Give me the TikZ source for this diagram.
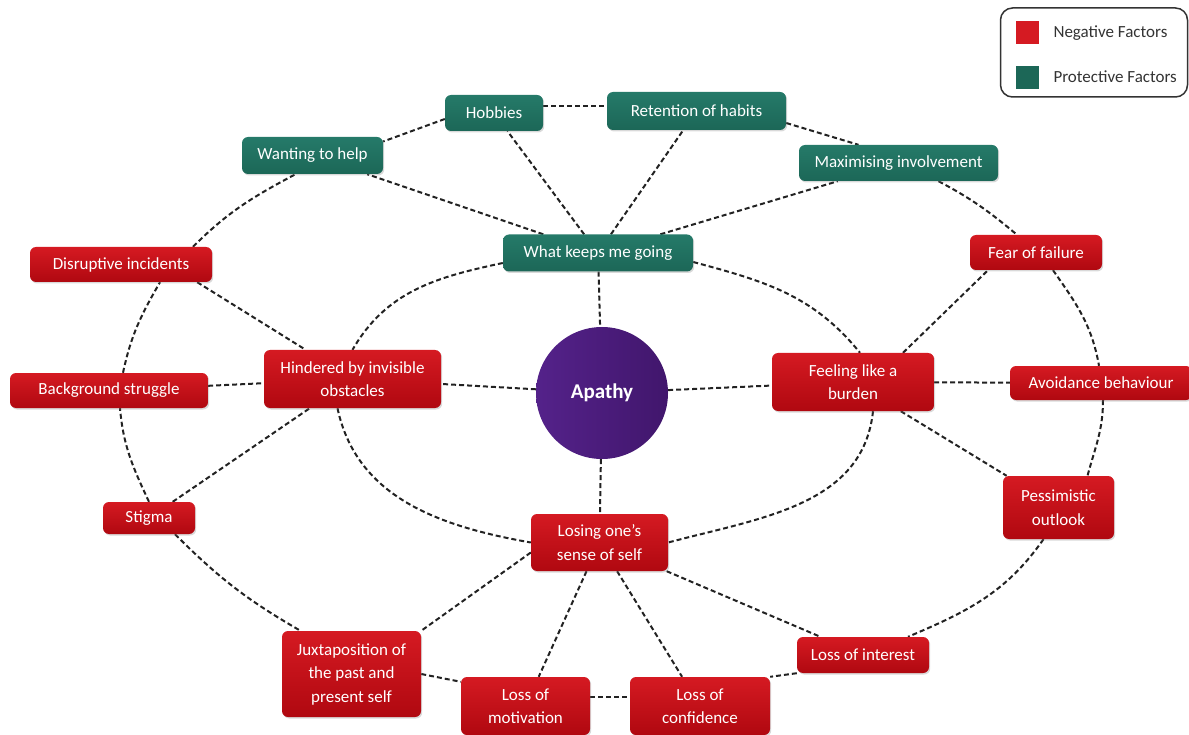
\documentclass[tikz,border=0pt]{standalone}
\usepackage{fontspec}
\setmainfont{Carlito}
\usetikzlibrary{shadows}
\definecolor{negtop}{HTML}{D51A22}
\definecolor{negbot}{HTML}{B00810}
\definecolor{protc}{HTML}{1C6757}
\definecolor{prottop}{HTML}{257A69}
\definecolor{purpl}{HTML}{54228A}
\definecolor{purpd}{HTML}{41166C}
\definecolor{linec}{HTML}{222222}
\definecolor{legtext}{HTML}{333333}
\pgfdeclarelayer{bglayer}
\pgfsetlayers{bglayer,main}
\begin{document}
\begin{tikzpicture}[x=1pt,y=-1pt,
  nodebox/.style={rectangle, rounded corners=6pt, text=white, align=center,
    font=\fontsize{17}{23.5}\selectfont, inner sep=2pt,
    drop shadow={opacity=0.3, shadow xshift=1.2pt, shadow yshift=-1.5pt}},
  neg/.style={nodebox, top color=negtop, bottom color=negbot},
  prot/.style={nodebox, top color=prottop, bottom color=protc},
  link/.style={draw=linec, line width=2pt, dash pattern=on 5pt off 3pt},
  legtxt/.style={anchor=west, text=legtext, font=\fontsize{17}{19}\selectfont},
]
\useasboundingbox (0,0) rectangle (1189,735);

% legend
\node[draw=legtext, line width=1.5pt, rounded corners=12pt, minimum width=187pt, minimum height=89pt] (legend) at (1094,52.5) {};
\node[fill=negtop, minimum size=23pt, inner sep=0pt] (lneg) at (1027.5,33) {};
\node[fill=protc, minimum size=23pt, inner sep=0pt] (lprot) at (1027.5,78) {};
\node[legtxt] (tneg) at (1050,33) {Negative Factors};
\node[legtxt] (tprot) at (1050,77) {Protective Factors};

% protective factors
\node[prot, minimum width=98pt, minimum height=36pt] (hob) at (494,113) {Hobbies};
\node[prot, minimum width=179pt, minimum height=38pt] (ret) at (696.5,111) {Retention of habits};
\node[prot, minimum width=141pt, minimum height=37pt] (want) at (312.5,155.5) {Wanting to help};
\node[prot, minimum width=199pt, minimum height=36pt] (max) at (898.5,163) {Maximising involvement};
\node[prot, minimum width=190pt, minimum height=37pt] (wkmg) at (598,253) {What keeps me going};

% negative factors
\node[neg, minimum width=182pt, minimum height=35pt] (dis) at (121,264.5) {Disruptive incidents};
\node[neg, minimum width=132pt, minimum height=35pt] (fear) at (1036,252.5) {Fear of failure};
\node[neg, minimum width=177pt, minimum height=58pt] (hind) at (352.5,379) {Hindered by invisible\\obstacles};
\node[neg, minimum width=162pt, minimum height=58pt] (feel) at (853,382) {Feeling like a\\burden};
\node[neg, minimum width=198pt, minimum height=35pt] (bg) at (109,390.5) {Background struggle};
\node[neg, minimum width=182pt, minimum height=34pt] (avoid) at (1101,383) {Avoidance behaviour};
\node[neg, minimum width=111pt, minimum height=63pt] (pess) at (1058.5,507.5) {Pessimistic\\outlook};
\node[neg, minimum width=92pt, minimum height=32pt] (stig) at (149,518) {Stigma};
\node[neg, minimum width=137pt, minimum height=57pt] (lose) at (599.5,542.5) {Losing one’s\\sense of self};
\node[neg, minimum width=132pt, minimum height=36pt] (int) at (863,655) {Loss of interest};
\node[neg, minimum width=139pt, minimum height=86pt] (jux) at (351.5,674) {Juxtaposition of\\the past and\\present self};
\node[neg, minimum width=129pt, minimum height=58pt] (mot) at (525.5,706) {Loss of\\motivation};
\node[neg, minimum width=140pt, minimum height=58pt] (conf) at (700,706) {Loss of\\confidence};

% centre
\node[circle, minimum size=132pt, inner sep=0pt, left color=purpl, right color=purpd,
  text=white, font=\fontsize{21}{24}\selectfont\bfseries] (apathy) at (602,393) {Apathy};

\begin{pgfonlayer}{bglayer}
% outer ring
\draw[link] ([yshift=7pt]hob.east) -- ([yshift=5pt]ret.west);
\draw[link] ([yshift=-6pt]hob.west) -- ([yshift=14pt]want.east);
\draw[link] ([yshift=-12pt]ret.east) -- ([xshift=-40pt]max.north);
\draw[link] ([xshift=40pt]max.south) to[out=-28,in=140] ([xshift=-19pt]fear.north);
\draw[link] ([xshift=17pt]fear.south) to[out=-55,in=100] ([xshift=-2pt]avoid.north);
\draw[link] ([xshift=2pt]avoid.south) to[out=-90,in=75] ([xshift=29pt]pess.north);
\draw[link] ([xshift=-15pt]pess.south) to[out=-125,in=23] ([xshift=45pt]int.north);
\draw[link] (int.south west) -- (conf.north east);
\draw[link] ([yshift=9pt]mot.east) -- ([yshift=9pt]conf.west);
\draw[link] (jux.east) -- ([yshift=-5pt]mot.north west);
\draw[link] ([xshift=26pt]stig.south) to[out=-45,in=150] ([xshift=-51pt]jux.north);
\draw[link] (stig.north) to[out=115,in=-85] ([xshift=11pt]bg.south);
\draw[link] ([xshift=14pt]bg.north) to[out=78,in=-120] ([xshift=39pt]dis.south);
\draw[link] ([xshift=72pt]dis.north) to[out=45,in=208] ([xshift=-17pt]want.south);
% inner ring
\draw[link] ([yshift=-10pt]wkmg.west) to[out=192,in=60] (hind.north);
\draw[link] ([yshift=-9pt]wkmg.east) to[out=-15,in=129] ([xshift=7pt]feel.north);
\draw[link] ([xshift=20pt]feel.south) to[out=-96,in=15] (lose.east);
\draw[link] ([xshift=-15pt]hind.south) to[out=-78,in=170] (lose.west);
% radial links
\draw[link] (wkmg) -- (hob);
\draw[link] (wkmg) -- (ret);
\draw[link] (wkmg) -- (want);
\draw[link] (wkmg) -- (max);
\draw[link] (wkmg) -- (apathy);
\draw[link] (apathy) -- (hind);
\draw[link] (apathy) -- (feel);
\draw[link] (apathy) -- (lose);
\draw[link] ([xshift=-15pt]dis.south east) -- (hind);
\draw[link] (bg) -- (hind);
\draw[link] (stig) -- (hind);
\draw[link] ([xshift=50pt]feel.north) -- ([xshift=-48pt]fear.south);
\draw[link] (feel) -- (avoid);
\draw[link] (feel) -- (pess);
\draw[link] ([yshift=-10pt]lose.west) -- (jux.north east);
\draw[link] (lose) -- (mot);
\draw[link] (lose) -- (conf);
\draw[link] (lose) -- (int);
\end{pgfonlayer}
\end{tikzpicture}
\end{document}
